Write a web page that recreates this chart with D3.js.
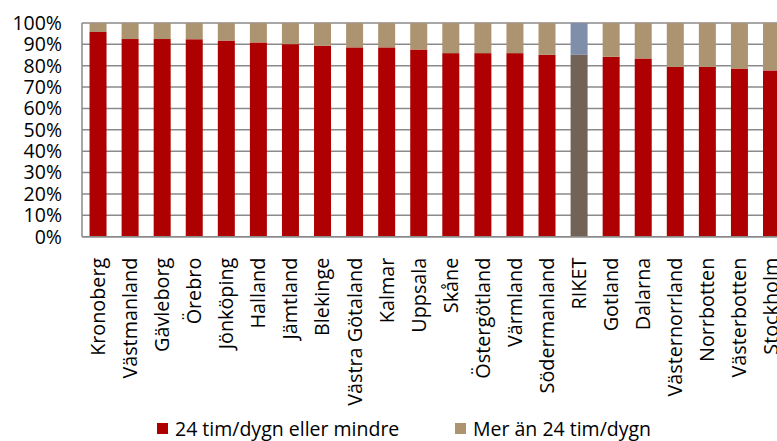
<!DOCTYPE html>
<meta charset="utf-8" />
<script src="https://d3js.org/d3.v7.js"></script>
<style>
  body { margin: 0; background: #fff; overflow: hidden; }
  text { font-family: "Open Sans", sans-serif; fill: #000; }
</style>
<div id="chart"></div>
<script>
  // regions, sorted by share of 24 h or less
  const regions = [
    "Kronoberg", "Västmanland", "Gävleborg", "Örebro", "Jönköping", "Halland",
    "Jämtland", "Blekinge", "Västra Götaland", "Kalmar", "Uppsala", "Skåne",
    "Östergötland", "Värmland", "Södermanland", "RIKET", "Gotland", "Dalarna",
    "Västernorrland", "Norrbotten", "Västerbotten", "Stockholm"
  ];
  // share 24 tim/dygn eller mindre
  const shareShort = [
    0.958, 0.925, 0.925, 0.924, 0.918, 0.909, 0.901, 0.894, 0.886, 0.886, 0.876,
    0.859, 0.859, 0.859, 0.851, 0.851, 0.842, 0.834, 0.795, 0.795, 0.787, 0.778
  ];
  // share mer än 24 tim/dygn
  const shareLong = shareShort.map(v => 1 - v);
  const yTicks = [0, 0.1, 0.2, 0.3, 0.4, 0.5, 0.6, 0.7, 0.8, 0.9, 1];
  const seriesNames = ["24 tim/dygn eller mindre", "Mer än 24 tim/dygn"];

  const colors = { short: "#ae0000", long: "#ad9470", rikShort: "#736357", rikLong: "#7f8faa" };

  const W = 777, H = 441;
  const margin = { top: 23, left: 82, bottom: 204 };
  const step = 32.07;
  const width = step * regions.length,
    height = H - margin.top - margin.bottom - 0.3;

  const svg = d3.select("#chart").append("svg")
    .attr("width", W).attr("height", H);
  const g = svg.append("g").attr("transform", `translate(${margin.left},${margin.top})`);

  const x = d3.scaleBand().domain(regions).range([0, width]).paddingInner(0.47).paddingOuter(0.235);
  const y = d3.scaleLinear().domain([0, 1]).range([height, 0]);

  // gridlines
  g.selectAll(".grid").data(yTicks).join("line")
    .attr("x1", 0).attr("x2", width)
    .attr("y1", d => y(d)).attr("y2", d => y(d))
    .attr("stroke", "#8a8a8a").attr("stroke-width", 1.5);

  const rows = regions.map((r, i) => ({ name: r, short: shareShort[i], long: shareLong[i] }));

  g.selectAll(".bshort").data(rows).join("rect")
    .attr("x", d => x(d.name)).attr("width", x.bandwidth())
    .attr("y", d => y(d.short)).attr("height", d => y(0) - y(d.short))
    .attr("fill", d => d.name === "RIKET" ? colors.rikShort : colors.short);

  g.selectAll(".blong").data(rows).join("rect")
    .attr("x", d => x(d.name)).attr("width", x.bandwidth())
    .attr("y", d => y(1)).attr("height", d => y(d.short) - y(1))
    .attr("fill", d => d.name === "RIKET" ? colors.rikLong : colors.long);

  // axes lines
  g.append("line").attr("x1", 0).attr("x2", 0).attr("y1", 0).attr("y2", height)
    .attr("stroke", "#8a8a8a").attr("stroke-width", 1.5);
  g.append("line").attr("x1", 0).attr("x2", width).attr("y1", height).attr("y2", height)
    .attr("stroke", "#8a8a8a").attr("stroke-width", 1.5);

  // y tick labels
  g.selectAll(".ylab").data(yTicks).join("text")
    .attr("x", -20).attr("y", d => y(d)).attr("dy", "0.35em")
    .attr("text-anchor", "end").style("font-size", "19.5px")
    .text(d => d3.format(".0%")(d));

  // x labels
  g.selectAll(".xlab").data(regions).join("text")
    .attr("transform", d => `translate(${x(d) + x.bandwidth() / 2},${height + 21}) rotate(-90)`)
    .attr("dy", "0.35em").attr("text-anchor", "end").style("font-size", "19.8px")
    .text(d => d);

  // legend
  const legend = svg.append("g");
  const legX = [157, 455];
  [colors.short, colors.long].forEach((c, i) => {
    legend.append("rect").attr("x", legX[i]).attr("y", 423).attr("width", 11).attr("height", 11).attr("fill", c);
    legend.append("text").attr("x", legX[i] + 18).attr("y", 429).attr("dy", "0.35em")
      .style("font-size", "19.5px").text(seriesNames[i]);
  });
</script>
